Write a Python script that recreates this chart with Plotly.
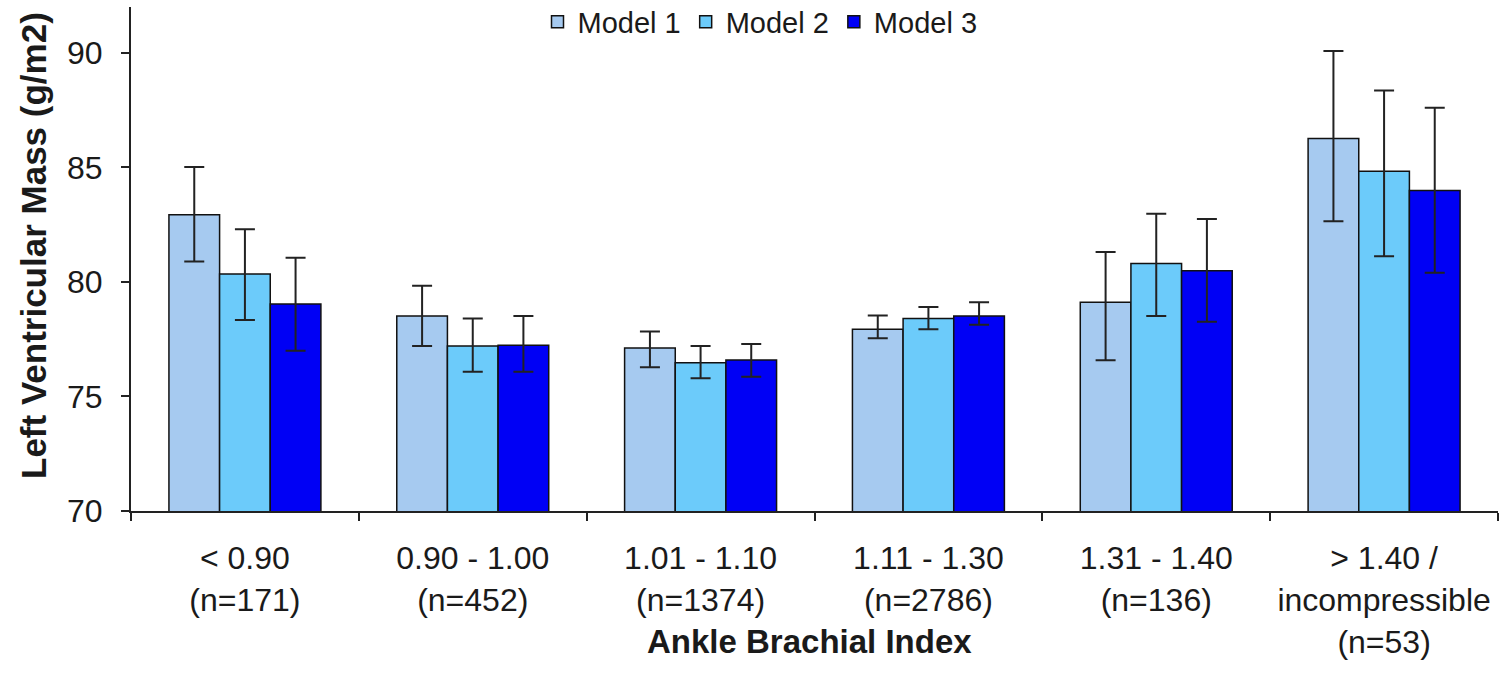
import plotly.graph_objects as go

categories = ["&lt; 0.90<br>(n=171)", "0.90 - 1.00<br>(n=452)", "1.01 - 1.10<br>(n=1374)",
              "1.11 - 1.30<br>(n=2786)", "1.31 - 1.40<br>(n=136)",
              "&gt; 1.40 /<br>incompressible<br>(n=53)"]
series_names = ["Model 1", "Model 2", "Model 3"]

model1 = [82.93, 78.51, 77.11, 77.93, 79.11, 86.26]
model1_hi = [85.02, 79.83, 77.83, 78.53, 81.31, 90.08]
model1_lo = [80.89, 77.20, 76.28, 77.54, 76.58, 82.65]

model2 = [80.34, 77.20, 76.47, 78.40, 80.80, 84.83]
model2_hi = [82.30, 78.40, 77.20, 78.91, 82.97, 88.36]
model2_lo = [78.34, 76.08, 75.79, 77.93, 78.51, 81.12]

model3 = [79.04, 77.23, 76.59, 78.51, 80.49, 83.99]
model3_hi = [81.06, 78.51, 77.29, 79.11, 82.75, 87.60]
model3_lo = [77.00, 76.08, 75.86, 78.13, 78.26, 80.40]

y_ticks = [70, 75, 80, 85, 90]
colors = ["#A6CAF0", "#6CCBFA", "#0000F5"]

FONT = "Liberation Sans, Arial, sans-serif"
TXT = "#1a1a1a"

fig = go.Figure()
for name, vals, hi, lo, col in zip(series_names, [model1, model2, model3],
                                   [model1_hi, model2_hi, model3_hi],
                                   [model1_lo, model2_lo, model3_lo], colors):
    fig.add_trace(go.Bar(
        x=categories, y=vals, name=name,
        marker=dict(color=col, line=dict(color="#111111", width=1.5)),
        error_y=dict(type="data", symmetric=False,
                     array=[h - v for h, v in zip(hi, vals)],
                     arrayminus=[v - l for v, l in zip(vals, lo)],
                     color="#222222", thickness=2, width=10),
    ))

fig.update_layout(
    width=1505, height=683,
    margin=dict(l=131, r=7, t=7, b=172, autoexpand=False),
    paper_bgcolor="white", plot_bgcolor="white",
    barmode="group", bargap=0.333, bargroupgap=0,
    font=dict(family=FONT, size=32, color=TXT),
    showlegend=True,
    legend=dict(orientation="h", x=(760 - 131) / 1367, xanchor="center",
                y=1 - (22 - 7) / 504, yanchor="middle",
                font=dict(size=29, color=TXT), bgcolor="rgba(0,0,0,0)",
                itemwidth=30, tracegroupgap=0),
    xaxis=dict(
        showline=True, linecolor="#222222", linewidth=2,
        ticks="outside", tickson="boundaries", ticklen=8, tickwidth=2, tickcolor="#222222",
        tickfont=dict(size=32, color=TXT), ticklabelstandoff=18,
        showgrid=False, zeroline=False, automargin=False,
    ),
    yaxis=dict(
        range=[70, 92], tickvals=y_ticks, ticktext=[str(v) for v in y_ticks],
        showline=True, linecolor="#222222", linewidth=2,
        ticks="outside", ticklen=8, tickwidth=2, tickcolor="#222222",
        tickfont=dict(size=32, color=TXT), ticklabelstandoff=12,
        showgrid=False, zeroline=False, automargin=False,
    ),
    annotations=[
        dict(text="Ankle Brachial Index", xref="paper", yref="paper",
             x=(809 - 131) / 1367, y=0, yshift=-130,
             xanchor="center", yanchor="middle", showarrow=False,
             font=dict(size=33, color=TXT, weight="bold", family=FONT)),
        dict(text="Left Ventricular Mass (g/m2)", xref="paper", yref="paper",
             x=0, xshift=-(131 - 33), y=(511 - 246) / 504,
             xanchor="center", yanchor="middle", textangle=-90, showarrow=False,
             font=dict(size=35, color=TXT, weight="bold", family=FONT)),
    ],
)

fig.write_html("out.html")
